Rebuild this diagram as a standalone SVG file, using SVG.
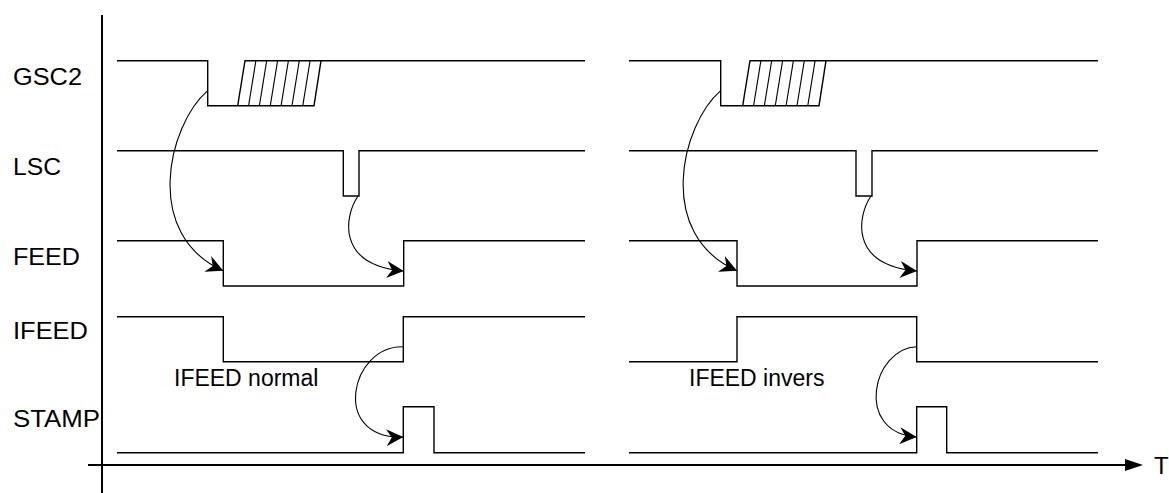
<svg xmlns="http://www.w3.org/2000/svg" width="1169" height="493" viewBox="0 0 1169 493">
<style>
  .sig { fill: none; stroke: #000; stroke-width: 1.4; stroke-linejoin: miter; }
  .hatch { fill: none; stroke: #000; stroke-width: 1.1; }
  .axis { fill: none; stroke: #000; stroke-width: 2; }
  .conn { fill: none; stroke: #000; stroke-width: 1.1; }
  .lbl { font-family: "Liberation Sans", Arial, sans-serif; font-size: 24px; fill: #000; }
  .note { font-family: "Liberation Sans", Arial, sans-serif; font-size: 23px; fill: #000; }
</style>
<defs>
  <marker id="stealth" viewBox="0 0 17 17" refX="17" refY="8.5" markerWidth="17" markerHeight="17" markerUnits="userSpaceOnUse" orient="auto">
    <path d="M0,0 L17,8.5 L0,17 L5.5,8.5 z" fill="#000"/>
  </marker>
</defs>
<rect width="1169" height="493" fill="#fff"/>

<g id="axes">
  <line class="axis" x1="102" y1="15" x2="102" y2="493"/>
  <line class="axis" x1="88" y1="465" x2="1128" y2="465"/>
  <polygon points="1125,459 1143,465 1125,471" fill="#000"/>
  <text class="lbl" x="1154" y="473.5">T</text>
</g>

<g id="labels">
  <text class="lbl" x="13" y="85" textLength="69" lengthAdjust="spacingAndGlyphs">GSC2</text>
  <text class="lbl" x="13" y="175" textLength="48" lengthAdjust="spacingAndGlyphs">LSC</text>
  <text class="lbl" x="13" y="265" textLength="67" lengthAdjust="spacingAndGlyphs">FEED</text>
  <text class="lbl" x="13" y="338.5" textLength="75" lengthAdjust="spacingAndGlyphs">IFEED</text>
  <text class="lbl" x="13" y="427" textLength="87" lengthAdjust="spacingAndGlyphs">STAMP</text>
</g>

<g id="gsc2">
  <polyline class="sig" points="117,60.7 207.7,60.7 207.7,105.7 314,105.7 321,60.7 245,60.7 237.7,105.7"/>
  <line class="sig" x1="321" y1="60.7" x2="585" y2="60.7"/>
  <g class="hatch">
    <line x1="255.9" y1="60.7" x2="248.6" y2="105.7"/>
    <line x1="266.7" y1="60.7" x2="259.4" y2="105.7"/>
    <line x1="277.6" y1="60.7" x2="270.3" y2="105.7"/>
    <line x1="288.4" y1="60.7" x2="281.1" y2="105.7"/>
    <line x1="299.3" y1="60.7" x2="292" y2="105.7"/>
    <line x1="310.1" y1="60.7" x2="302.8" y2="105.7"/>
  </g>
  <polyline class="sig" points="629,60.7 720.7,60.7 720.7,105.7 819,105.7 826,60.7 750,60.7 742.7,105.7"/>
  <line class="sig" x1="826" y1="60.7" x2="1098" y2="60.7"/>
  <g class="hatch">
    <line x1="760.9" y1="60.7" x2="753.6" y2="105.7"/>
    <line x1="771.7" y1="60.7" x2="764.4" y2="105.7"/>
    <line x1="782.6" y1="60.7" x2="775.3" y2="105.7"/>
    <line x1="793.4" y1="60.7" x2="786.1" y2="105.7"/>
    <line x1="804.3" y1="60.7" x2="797" y2="105.7"/>
    <line x1="815.1" y1="60.7" x2="807.8" y2="105.7"/>
  </g>
</g>

<g id="lsc">
  <polyline class="sig" points="117,150.7 343.3,150.7 343.3,196 359,196 359,150.7 585,150.7"/>
  <polyline class="sig" points="629,150.7 856,150.7 856,196 872,196 872,150.7 1098,150.7"/>
</g>

<g id="feed">
  <polyline class="sig" points="117,240.7 223.3,240.7 223.3,286 403.7,286 403.7,240.7 585,240.7"/>
  <polyline class="sig" points="629,240.7 737,240.7 737,286 917,286 917,240.7 1098,240.7"/>
</g>

<g id="ifeed">
  <polyline class="sig" points="117,316.7 223.3,316.7 223.3,361.7 403.3,361.7 403.3,316.7 585,316.7"/>
  <polyline class="sig" points="629,361.7 737,361.7 737,316.7 916.7,316.7 916.7,361.7 1098,361.7"/>
  <text class="note" x="174" y="385.5">IFEED normal</text>
  <text class="note" x="689" y="385.5">IFEED invers</text>
</g>

<g id="stamp">
  <polyline class="sig" points="117,452.7 403.3,452.7 403.3,406.7 434,406.7 434,452.7 585,452.7"/>
  <polyline class="sig" points="629,452.7 916.7,452.7 916.7,406.7 946.7,406.7 946.7,452.7 1098,452.7"/>
</g>

<g id="connectors">
  <path class="conn" marker-end="url(#stealth)" d="M207.7,90.7 C168,125 142,235 223.3,270.7"/>
  <path class="conn" marker-end="url(#stealth)" d="M358,196 C345,215 335,265 403.7,271"/>
  <path class="conn" marker-end="url(#stealth)" d="M403.3,346.7 C350,345 330,440 403.3,437"/>
  <path class="conn" marker-end="url(#stealth)" d="M720.7,90.7 C681,125 655,235 737,270.7"/>
  <path class="conn" marker-end="url(#stealth)" d="M871,196 C858,215 848,265 917,271"/>
  <path class="conn" marker-end="url(#stealth)" d="M916.7,346.7 C873,348 853,432 916.7,437"/>
</g>
</svg>
